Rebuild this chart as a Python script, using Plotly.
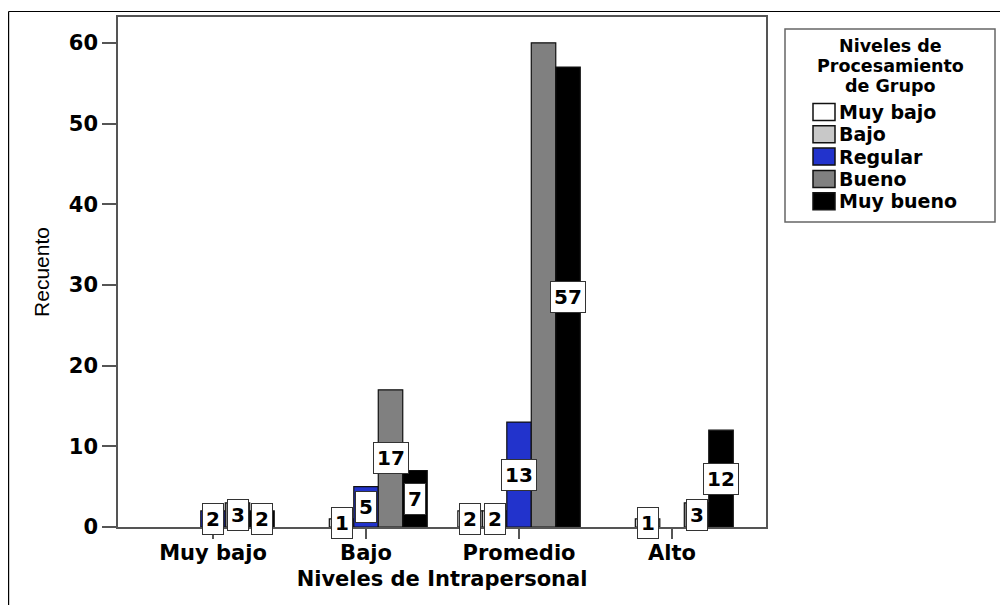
import plotly.graph_objects as go

# categories on the x axis and legend series
categorias = ["Muy bajo", "Bajo", "Promedio", "Alto"]
series = ["Muy bajo", "Bajo", "Regular", "Bueno", "Muy bueno"]

# counts per series, one value per category
muy_bajo = [0, 0, 2, 0]
bajo = [0, 1, 2, 1]
regular = [2, 5, 13, 0]
bueno = [3, 17, 60, 3]
muy_bueno = [2, 7, 57, 12]

colores = ["#ffffff", "#c8c8c8", "#2233cc", "#808080", "#000000"]
titulo_leyenda = ["Niveles de", "Procesamiento", "de Grupo"]
y_ticks = [0, 10, 20, 30, 40, 50, 60]

# the original hides the label of the tallest bar (overlap with the 57 box)
etiquetas_ocultas = {("Bueno", "Promedio")}

valores = [muy_bajo, bajo, regular, bueno, muy_bueno]

FONT = "DejaVu Sans"
OFF = 8  # page body margin
W, H = 1008 - OFF, 605 - OFF
# plot area, in page pixels
L, R, T, B = 118, 766, 17, 527
BARGAP = 0.2
bar_w = (1 - BARGAP) / len(series)


def px_x(px):
    return (px - L) / (R - L)


def px_y(py):
    return (B - py) / (B - T)


fig = go.Figure()
for nombre, vals, color in zip(series, valores, colores):
    fig.add_trace(go.Bar(
        x=list(range(len(categorias))), y=[v if v > 0 else None for v in vals], name=nombre,
        marker=dict(color=color, line=dict(color="#111111", width=1.2)),
        showlegend=False, hoverinfo="y+name",
    ))

annotations = []
for i, (nombre, vals) in enumerate(zip(series, valores)):
    for j, v in enumerate(vals):
        if v <= 0 or (nombre, categorias[j]) in etiquetas_ocultas:
            continue
        annotations.append(dict(
            x=j + (i - (len(series) - 1) / 2) * bar_w, y=v / 2, xref="x", yref="y",
            text=f"<b>{v}</b>", showarrow=False, font=dict(family=FONT, size=20, color="black"),
            bgcolor="white", bordercolor="#333333", borderwidth=1, borderpad=3,
        ))

# legend drawn by hand to get the big swatches and the framed box
leg_x0, leg_x1, leg_y0, leg_y1 = 785, 995, 29, 222
shapes = [
    dict(type="rect", xref="paper", yref="paper", x0=px_x(leg_x0), x1=px_x(leg_x1),
         y0=px_y(leg_y1), y1=px_y(leg_y0), line=dict(color="#666666", width=1.5), fillcolor="white"),
    # outer frame of the picture
    dict(type="line", xref="paper", yref="paper", x0=px_x(OFF + 0.6), x1=px_x(1008), y0=px_y(11.5), y1=px_y(11.5),
         line=dict(color="black", width=1.2)),
    dict(type="line", xref="paper", yref="paper", x0=px_x(OFF + 0.6), x1=px_x(OFF + 0.6), y0=px_y(11.5), y1=px_y(605),
         line=dict(color="black", width=1.2)),
]
for k, linea in enumerate(titulo_leyenda):
    annotations.append(dict(
        x=px_x((leg_x0 + leg_x1) / 2), y=px_y(45.5 + k * 20.5), xref="paper", yref="paper",
        text=f"<b>{linea}</b>", showarrow=False, xanchor="center", yanchor="middle",
        font=dict(family=FONT, size=17.5, color="black"),
    ))
for k, (nombre, color) in enumerate(zip(series, colores)):
    yc = 112 + k * 22.3
    shapes.append(dict(
        type="rect", xref="paper", yref="paper", x0=px_x(813), x1=px_x(835),
        y0=px_y(yc + 8.5), y1=px_y(yc - 8.5), fillcolor=color, line=dict(color="#111111", width=1.5),
    ))
    annotations.append(dict(
        x=px_x(837), y=px_y(yc), xref="paper", yref="paper", text=f"<b>{nombre}</b>",
        showarrow=False, xanchor="left", yanchor="middle",
        font=dict(family=FONT, size=19, color="black"),
    ))

fig.update_layout(
    width=W, height=H, barmode="group", bargap=BARGAP, bargroupgap=0,
    plot_bgcolor="white", paper_bgcolor="white",
    margin=dict(l=L - OFF, r=W - (R - OFF), t=T - OFF, b=H - (B - OFF), autoexpand=False),
    font=dict(family=FONT, size=20, color="black"),
    shapes=shapes, annotations=annotations,
)
fig.update_xaxes(
    range=[-0.621, 3.614], tickvals=list(range(len(categorias))),
    ticktext=[f"<b>{c}</b>" for c in categorias], tickfont=dict(size=21),
    ticks="outside", ticklen=10, tickcolor="#555555", tickwidth=1.5, ticklabelstandoff=-4,
    showline=True, linecolor="#555555", linewidth=1.5, mirror=True, showgrid=False, zeroline=False,
    title=dict(text="<b>Niveles de Intrapersonal</b>", font=dict(size=21), standoff=7),
)
fig.update_yaxes(
    range=[0, 63.2], tickvals=y_ticks, ticktext=[f"<b>{t}</b>" for t in y_ticks], tickfont=dict(size=21),
    ticks="outside", ticklen=14, tickcolor="#555555", tickwidth=1.5,
    showline=True, linecolor="#555555", linewidth=1.5, mirror=True, showgrid=False, zeroline=False,
    title=dict(text="Recuento", font=dict(family="Liberation Sans", size=21), standoff=13),
)

fig.write_html("out.html")
